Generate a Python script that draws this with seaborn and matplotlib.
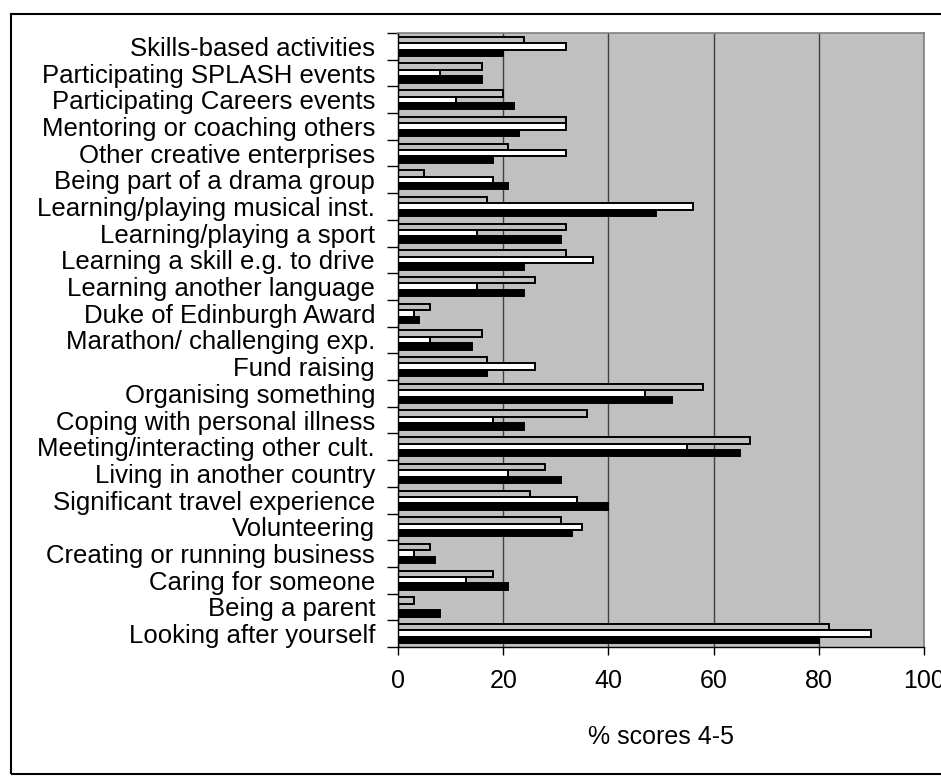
import matplotlib
matplotlib.use("Agg")
import matplotlib.pyplot as plt
from matplotlib.patches import Rectangle
import numpy as np
import pandas as pd
import seaborn as sns

# Activities, listed top to bottom
activities = [
    "Skills-based activities",
    "Participating SPLASH events",
    "Participating Careers events",
    "Mentoring or coaching others",
    "Other creative enterprises",
    "Being part of a drama group",
    "Learning/playing musical inst.",
    "Learning/playing a sport",
    "Learning a skill e.g. to drive",
    "Learning another language",
    "Duke of Edinburgh Award",
    "Marathon/ challenging exp.",
    "Fund raising",
    "Organising something",
    "Coping with personal illness",
    "Meeting/interacting other cult.",
    "Living in another country",
    "Significant travel experience",
    "Volunteering",
    "Creating or running business",
    "Caring for someone",
    "Being a parent",
    "Looking after yourself",
]

series_names = ["Group A", "Group B", "Group C"]

# % of respondents scoring 4-5, one list per group
group_a = [24, 16, 20, 32, 21, 5, 17, 32, 32, 26, 6, 16, 17, 58, 36, 67, 28, 25, 31, 6, 18, 3, 82]
group_b = [32, 8, 11, 32, 32, 18, 56, 15, 37, 15, 3, 6, 26, 47, 18, 55, 21, 34, 35, 3, 13, 0, 90]
group_c = [20, 16, 22, 23, 18, 21, 49, 31, 24, 24, 4, 14, 17, 52, 24, 65, 31, 40, 33, 7, 21, 8, 80]

x_ticks = [0, 20, 40, 60, 80, 100]
x_label = "% scores 4-5"

df = pd.DataFrame({
    "activity": activities * 3,
    "series": np.repeat(series_names, len(activities)),
    "value": group_a + group_b + group_c,
})

sns.set_theme(style="white")
plt.rcParams["font.family"] = ["Liberation Sans", "DejaVu Sans"]

W, H = 941, 776
fig = plt.figure(figsize=(W / 100, H / 100), dpi=100)
left, right, top, bottom = 398, 924, 33, 647
ax = fig.add_axes([left / W, 1 - bottom / H, (right - left) / W, (bottom - top) / H])

sns.barplot(
    data=df, y="activity", x="value", hue="series",
    order=activities, hue_order=series_names,
    palette=["#C0C0C0", "#FFFFFF", "#000000"],
    saturation=1, edgecolor="black", linewidth=1.4, width=0.72,
    errorbar=None, legend=False, orient="h", ax=ax,
)

ax.set_facecolor("#C0C0C0")
n = len(activities)
ax.set_xlim(0, 100)
ax.set_ylim(n - 0.5, -0.5)

# vertical gridlines behind the bars
ax.set_xticks(x_ticks)
ax.set_axisbelow(True)
ax.xaxis.grid(True, color="#404040", linewidth=1)
ax.yaxis.grid(False)

# x axis ticks and labels
ax.tick_params(axis="x", direction="out", length=6, width=1, color="black",
               labelsize=18, pad=10, bottom=True, labelcolor="black")

# category labels centred, tick marks on category boundaries
ax.tick_params(axis="y", which="major", length=0, pad=16.5, labelsize=18.5,
               labelcolor="black")
ax.set_yticks(np.arange(n + 1) - 0.5, minor=True)
ax.tick_params(axis="y", which="minor", direction="out", length=8, width=1,
               color="black", left=True)

ax.set_ylabel("")
ax.set_xlabel(x_label, fontsize=18, labelpad=23, color="black")

for side in ("top", "right"):
    ax.spines[side].set_color("#808080")
    ax.spines[side].set_linewidth(1.2)
for side in ("left", "bottom"):
    ax.spines[side].set_color("#000000")
    ax.spines[side].set_linewidth(1)

# chart frame
fig.add_artist(Rectangle((11 / W, 2 / H), 1.0, (774 - 14) / H,
                         transform=fig.transFigure, fill=False,
                         edgecolor="black", linewidth=1.5))

fig.savefig("out.png", dpi=100, facecolor="white")
